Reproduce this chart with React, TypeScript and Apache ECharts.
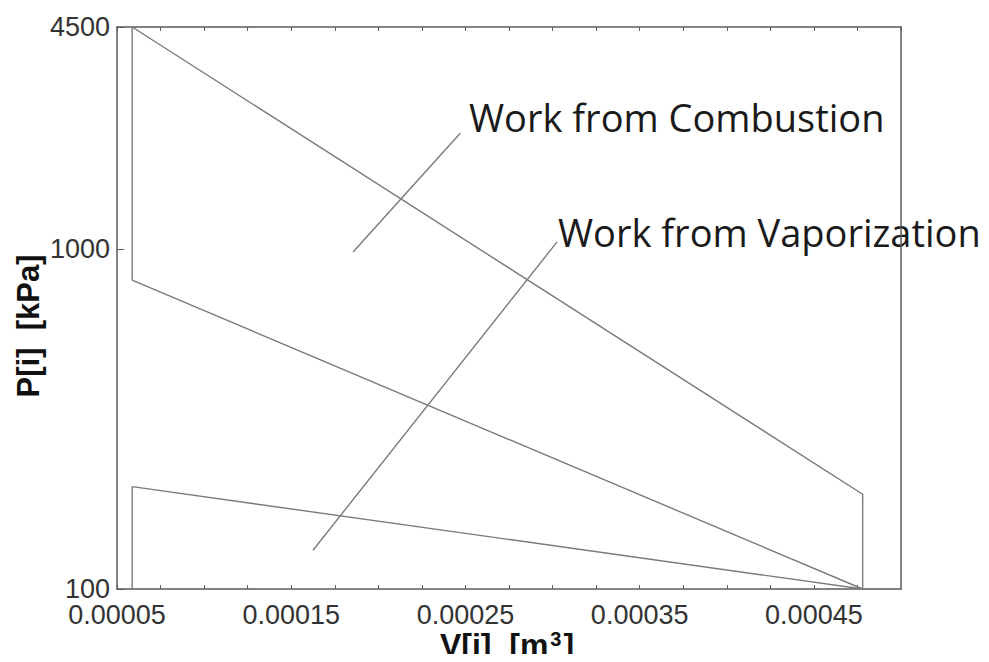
import React, { useEffect, useRef } from "react";
import * as echarts from "echarts";

// Volumes (m^3) and pressures (kPa)
const V_MIN = 0.0000587;
const V_MAX = 0.000478;
const combustionLoop: [number, number][] = [
  [V_MIN, 810],
  [V_MIN, 4500],
  [V_MAX, 190],
  [V_MAX, 100],
  [V_MIN, 810],
];
const vaporizationLoop: [number, number][] = [
  [V_MIN, 100],
  [V_MIN, 200],
  [V_MAX, 100],
];
const leaderCombustion: [number, number][] = [
  [0.0001855, 980],
  [0.000247, 2190],
];
const leaderVaporization: [number, number][] = [
  [0.0001625, 130],
  [0.0003026, 1050],
];
const xLabelTicks = [0.00005, 0.00015, 0.00025, 0.00035, 0.00045];
const yLabelTicks = [100, 1000, 4500];

const LINE = "#7a7a7a";
const FRAME = "#5a5a5a";

export default function App() {
  const ref = useRef<HTMLDivElement>(null);
  useEffect(() => {
    if (!ref.current) return;
    const chart = echarts.init(ref.current, undefined, { renderer: "svg" });
    const isXLabel = (v: number) => xLabelTicks.some((t) => Math.abs(t - v) < 1e-9);
    const lineSeries = (data: [number, number][]) => ({
      type: "line",
      data,
      symbol: "none",
      lineStyle: { color: LINE, width: 1.4 },
      silent: true,
    });
    chart.setOption({
      animation: false,
      backgroundColor: "#fff",
      grid: {
        left: 117,
        top: 27,
        right: 88,
        bottom: 73,
        containLabel: false,
        outerBoundsMode: "none",
      },
      xAxis: [
        {
          type: "value",
          min: 0.00005,
          max: 0.0005,
          interval: 0.000025,
          axisLine: { show: true, lineStyle: { color: FRAME, width: 1.5 } },
          axisTick: { show: true, inside: true, length: 4, lineStyle: { color: FRAME } },
          splitLine: { show: false },
          axisLabel: {
            color: "#333",
            fontFamily: "Liberation Sans",
            fontSize: 27,
            margin: 12,
            showMaxLabel: false,
            formatter: (v: number) => (isXLabel(v) ? v.toFixed(5) : ""),
          },
        },
        {
          type: "value",
          position: "top",
          min: 0.00005,
          max: 0.0005,
          interval: 0.000025,
          axisLine: { show: true, lineStyle: { color: FRAME, width: 1.5 } },
          axisTick: { show: true, inside: true, length: 4, lineStyle: { color: FRAME } },
          axisLabel: { show: false },
          splitLine: { show: false },
        },
      ],
      yAxis: [
        {
          type: "log",
          logBase: 10,
          min: 100,
          max: 4500,
          axisLine: { show: true, lineStyle: { color: FRAME, width: 1.5 } },
          axisTick: { show: true, inside: true, length: 7, lineStyle: { color: FRAME } },
          minorTick: { show: false },
          splitLine: { show: false },
          axisLabel: {
            color: "#333",
            fontFamily: "Liberation Sans",
            fontSize: 27,
            margin: 7,
            formatter: (v: number) => {
              const r = Math.round(v);
              return yLabelTicks.includes(r) ? String(r) : "";
            },
          },
        },
        {
          type: "log",
          logBase: 10,
          min: 100,
          max: 4500,
          position: "right",
          axisLine: { show: true, lineStyle: { color: FRAME, width: 1.5 } },
          axisTick: { show: false },
          axisLabel: { show: false },
          splitLine: { show: false },
        },
      ],
      series: [
        lineSeries(combustionLoop),
        lineSeries(vaporizationLoop),
        lineSeries(leaderCombustion),
        lineSeries(leaderVaporization),
      ],
      graphic: [
        {
          type: "text",
          left: 469,
          top: 98,
          style: {
            text: "Work from Combustion",
            fontFamily: "Open Sans",
            fontSize: 38,
            fill: "#1a1a1a",
          },
        },
        {
          type: "text",
          left: 558,
          top: 213,
          style: {
            text: "Work from Vaporization",
            fontFamily: "Open Sans",
            fontSize: 38,
            fill: "#1a1a1a",
            backgroundColor: "#fff",
          },
        },
        {
          type: "text",
          x: 507,
          y: 661,
          style: {
            text: "{b|V[i]  [m}{s|3}{b|]}",
            align: "center",
            verticalAlign: "bottom",
            rich: {
              b: { fontFamily: "Liberation Sans", fontWeight: "bold", fontSize: 32, lineHeight: 32, fill: "#111", verticalAlign: "bottom" },
              s: { fontFamily: "Liberation Sans", fontWeight: "bold", fontSize: 20, lineHeight: 20, fill: "#111", verticalAlign: "top", padding: [0, 2, 10, 2] },
            },
          },
        },
        {
          type: "text",
          x: 28,
          y: 326,
          rotation: Math.PI / 2,
          style: {
            text: "P[i]  [kPa]",
            fontFamily: "Liberation Sans",
            fontWeight: "bold",
            fontSize: 31,
            fill: "#111",
            align: "center",
            verticalAlign: "middle",
          },
        },
      ],
    });
    return () => chart.dispose();
  }, []);
  return <div ref={ref} style={{ width: 989, height: 662, margin: -8 }} />;
}
